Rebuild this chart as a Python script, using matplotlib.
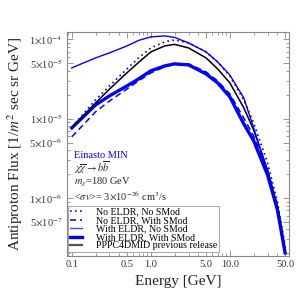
import matplotlib
matplotlib.use('Agg')
import matplotlib.pyplot as plt
import numpy as np
from matplotlib.ticker import FixedLocator, LogLocator, NullFormatter
from matplotlib.lines import Line2D

plt.rcParams['font.family'] = ['Liberation Serif', 'DejaVu Serif']
plt.rcParams['mathtext.fontset'] = 'stix'

# energies in GeV
energy = [0.1, 0.2, 0.3, 0.5, 0.7, 1.0, 1.5, 2.0, 3.0, 5.0, 7.0, 10.0, 15.0, 20.0, 30.0, 40.0, 50.0]

# fluxes [1/m^2 sec sr GeV]
no_eldr_no_smod = [7.8e-6, 1.73e-5, 2.59e-5, 4.25e-5, 5.84e-5, 7.82e-5, 9.3e-5, 9.86e-5, 9.03e-5,
                   6.95e-5, 5.2e-5, 3.46e-5, 1.72e-5, 8.83e-6, 2.77e-6, 8.9e-7, 2.5e-7]
no_eldr_smod = [5.89e-6, 1.22e-5, 1.67e-5, 2.37e-5, 2.99e-5, 3.78e-5, 4.5e-5, 4.91e-5, 4.91e-5,
                3.89e-5, 2.99e-5, 2.05e-5, 1.02e-5, 6.05e-6, 2.25e-6, 7.9e-7, 2.21e-7]
eldr_no_smod = [4.37e-5, 5.84e-5, 6.76e-5, 8.28e-5, 9.71e-5, 1.076e-4, 1.106e-4, 1.06e-4, 9.03e-5,
                6.95e-5, 5.2e-5, 3.55e-5, 1.83e-5, 7.64e-6, 2.13e-6, 6.66e-7, 2.21e-7]
eldr_smod = [7.64e-6, 1.49e-5, 1.94e-5, 2.59e-5, 3.17e-5, 4.01e-5, 4.63e-5, 4.91e-5, 4.77e-5,
             3.67e-5, 2.83e-5, 1.88e-5, 8.59e-6, 5.27e-6, 1.95e-6, 7.07e-7, 2.02e-7]
pppc_old = [7.64e-6, 1.58e-5, 2.36e-5, 3.8e-5, 5.12e-5, 6.95e-5, 8.28e-5, 8.65e-5, 7.81e-5,
            5.84e-5, 4.25e-5, 2.83e-5, 1.37e-5, 7.21e-6, 2.25e-6, 7.69e-7, 2.21e-7]

labels = ['No ELDR, No SMod', 'No ELDR, With SMod', 'With ELDR, No SMod',
          'With ELDR, With SMod', 'PPPC4DMID previous release']

xticks = [0.1, 0.5, 1.0, 5.0, 10.0, 50.0]
xticklabels = ['0.1', '0.5', '1.0', '5.0', '10.0', '50.0']
yticks = [5e-7, 1e-6, 5e-6, 1e-5, 5e-5, 1e-4]
yticklabels = [r'5$\times$10$^{-7}$', r'1$\times$10$^{-6}$', r'5$\times$10$^{-6}$',
               r'1$\times$10$^{-5}$', r'5$\times$10$^{-5}$', r'1$\times$10$^{-4}$']

fig = plt.figure(figsize=(2.98, 2.98), dpi=100)
ax = fig.add_axes([67/298, 1 - 256/298, 222/298, 224/298])

blue = '#0000ff'
ax.plot(energy, pppc_old, color='black', lw=1.1, zorder=3)
ax.plot(energy, eldr_smod, color=blue, lw=2.4, zorder=2)
ax.plot(energy, no_eldr_smod, color=blue, lw=1.1, ls=(0, (4, 2.5)), zorder=4)
ax.plot(energy, eldr_no_smod, color=blue, lw=1.0, zorder=4)
ax.plot(energy, no_eldr_no_smod, color=blue, lw=1.2, ls=(0, (1, 2)), zorder=4)

ax.set_xscale('log')
ax.set_yscale('log')
ax.set_xlim(0.087, 56)
ax.set_ylim(1.85e-7, 1.24e-4)

ax.xaxis.set_major_locator(FixedLocator(xticks))
ax.set_xticklabels(xticklabels)
ax.yaxis.set_major_locator(FixedLocator(yticks))
ax.set_yticklabels(yticklabels)
ax.xaxis.set_minor_locator(LogLocator(base=10, subs=np.arange(1, 10)))
ax.yaxis.set_minor_locator(LogLocator(base=10, subs=np.arange(1, 10)))
ax.xaxis.set_minor_formatter(NullFormatter())
ax.yaxis.set_minor_formatter(NullFormatter())

frame_col = '#888888'
for s in ax.spines.values():
    s.set_color(frame_col)
    s.set_linewidth(0.8)
ax.tick_params(which='both', direction='in', top=True, right=True, color=frame_col,
               labelsize=7.5, labelcolor='#333333', width=0.6)
ax.tick_params(which='major', length=4)
ax.tick_params(which='minor', length=2)
ax.tick_params(axis='x', pad=3)

ax.set_xlabel('Energy [GeV]', fontsize=11, color='#222222', labelpad=4)
ax.set_ylabel(r'Antiproton Flux [1/$m^2$ sec sr GeV]', fontsize=11, color='#222222', labelpad=3)

ax.text(0.03, 0.45, 'Einasto MIN', transform=ax.transAxes, color=blue, fontsize=7.5, va='center')
ax.text(0.03, 0.395, r'$\chi\overline{\chi}\rightarrow b\overline{b}$', transform=ax.transAxes,
        fontsize=7.5, va='center', color='#222222')
ax.text(0.03, 0.33, r'$m_\chi$=180 GeV', transform=ax.transAxes, fontsize=7.5, va='center',
        color='#222222')
ax.text(0.03, 0.268, r'<$\sigma v$>= 3$\times$10$^{-26}$ cm$^3$/s', transform=ax.transAxes,
        fontsize=7.5, va='center', color='#222222')

handles = [Line2D([], [], color=blue, lw=1.2, ls=(0, (1, 2))),
           Line2D([], [], color=blue, lw=1.1, ls=(0, (4, 2.5))),
           Line2D([], [], color='#4a4aff', lw=1.0),
           Line2D([], [], color=blue, lw=2.4),
           Line2D([], [], color='#555555', lw=1.6)]
leg = ax.legend(handles, labels, loc='lower left', bbox_to_anchor=(0.005, 0.018), fontsize=7.1,
                frameon=True, fancybox=False, edgecolor='#999999', framealpha=1,
                handlelength=1.3, handletextpad=1.4, borderpad=0.15, labelspacing=-0.05,
                borderaxespad=0)
leg.get_frame().set_linewidth(0.6)

fig.savefig('out.png', dpi=100)
